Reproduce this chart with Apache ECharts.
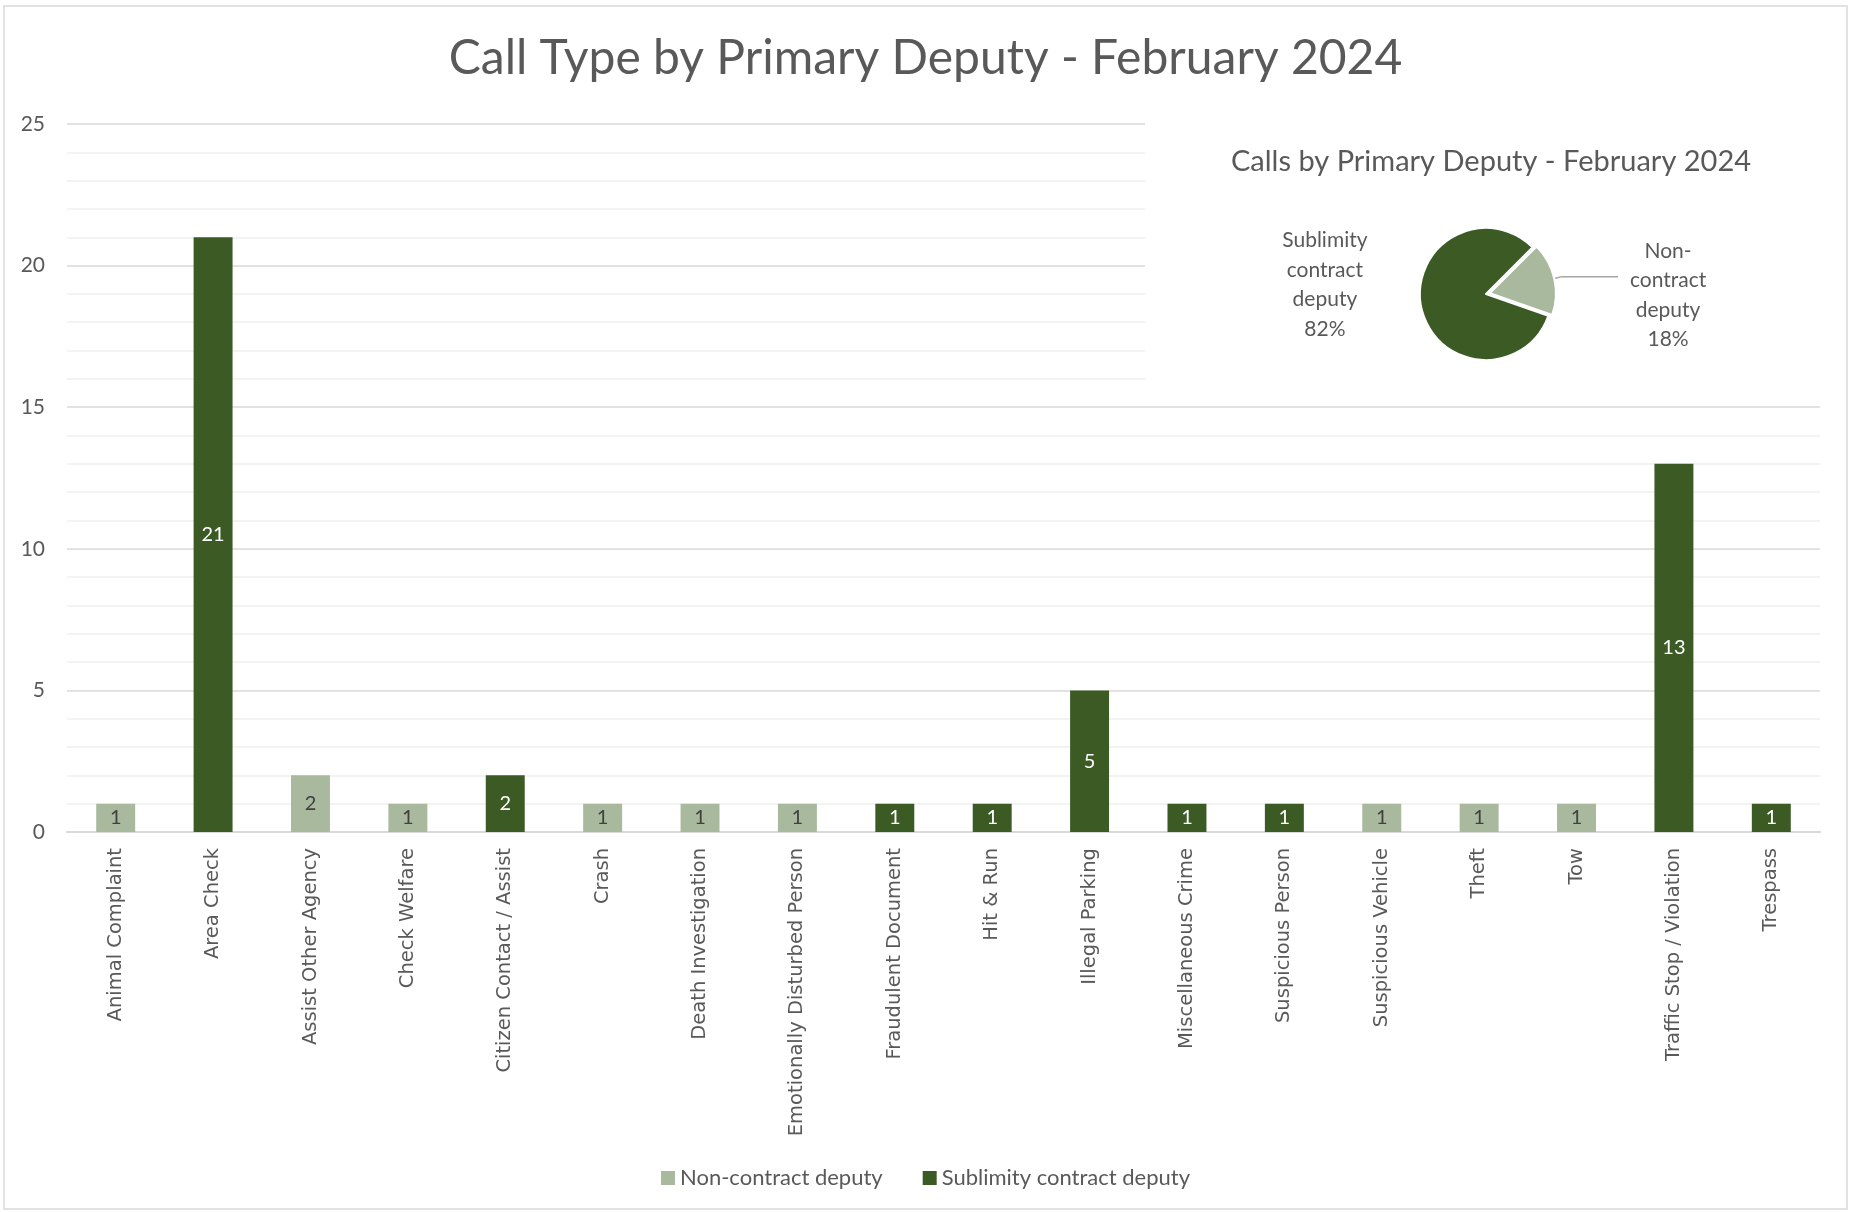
<!DOCTYPE html>
<html>
<head>
<meta charset="utf-8">
<title>Call Type by Primary Deputy - February 2024</title>
<script src="https://cdn.jsdelivr.net/npm/echarts@6/dist/echarts.min.js"></script>
<style>
  html, body { margin: 0; padding: 0; background: #fff; }
  #chart { width: 1851px; height: 1212px; }
</style>
</head>
<body>
<div id="chart"></div>
<script>
// call types (x axis)
var callTypes = [
  'Animal Complaint', 'Area Check', 'Assist Other Agency', 'Check Welfare',
  'Citizen Contact / Assist', 'Crash', 'Death Investigation',
  'Emotionally Disturbed Person', 'Fraudulent Document', 'Hit & Run',
  'Illegal Parking', 'Miscellaneous Crime', 'Suspicious Person',
  'Suspicious Vehicle', 'Theft', 'Tow', 'Traffic Stop / Violation', 'Trespass'
]
var nonContract = [1, 0, 2, 1, 0, 1, 1, 1, 0, 0, 0, 0, 0, 1, 1, 1, 0, 0]
var sublimity   = [0, 21, 0, 0, 2, 0, 0, 0, 1, 1, 5, 1, 1, 0, 0, 0, 13, 1]
var seriesNames = ['Non-contract deputy', 'Sublimity contract deputy']
var pieLabels = ['Non-\ncontract\ndeputy', 'Sublimity\ncontract\ndeputy']

var LIGHT = '#a9b99e'
var DARK = '#3b5a24'
var TEXT = '#595959'
var CAL = 'Lato, "Open Sans", sans-serif'

function sum(arr) {
  return arr.reduce(function (a, b) { return a + b }, 0)
}

// rich style for the centred, multi-line pie labels
function pieRich(w) {
  return {
    t: {
      width: w,
      align: 'center',
      fontFamily: CAL,
      fontSize: 21,
      lineHeight: 29.5,
      color: TEXT
    }
  }
}

var chart = echarts.init(document.getElementById('chart'))

chart.setOption({
  backgroundColor: '#fff',
  animation: false,
  title: [{
    text: 'Call Type by Primary Deputy - February 2024',
    left: 'center',
    top: 30,
    textStyle: { fontFamily: CAL, fontSize: 48, fontWeight: 'normal', color: TEXT }
  }, {
    text: 'Calls by Primary Deputy - February 2024',
    left: 1486,
    top: 142,
    textAlign: 'center',
    textStyle: { fontFamily: CAL, fontSize: 29, fontWeight: 'normal', color: TEXT }
  }],
  graphic: [{
    // chart outline
    type: 'rect',
    z: 0,
    silent: true,
    shape: { x: 4, y: 6, width: 1843, height: 1203 },
    style: { fill: 'none', stroke: '#d9d9d9', lineWidth: 1.5 }
  }, {
    // white panel behind the pie
    type: 'rect',
    z: 1,
    silent: true,
    shape: { x: 1145, y: 110, width: 690, height: 287 },
    style: { fill: '#fff' }
  }],
  legend: {
    data: seriesNames,
    bottom: 18,
    left: 'center',
    icon: 'rect',
    itemWidth: 14,
    itemHeight: 14,
    itemGap: 40,
    textStyle: { fontFamily: CAL, fontSize: 22, color: TEXT }
  },
  grid: {
    left: 67,
    right: 31,
    top: 124,
    bottom: 380
  },
  xAxis: {
    type: 'category',
    data: callTypes,
    axisTick: { show: false },
    axisLine: { lineStyle: { color: '#d9d9d9', width: 2 } },
    axisLabel: {
      rotate: 90,
      interval: 0,
      margin: 16,
      fontFamily: 'DejaVu Sans',
      fontSize: 19.5,
      color: TEXT
    }
  },
  yAxis: {
    type: 'value',
    min: 0,
    max: 25,
    interval: 5,
    axisLine: { show: false },
    axisTick: { show: false },
    axisLabel: { fontFamily: CAL, fontSize: 21, color: TEXT, margin: 22 },
    splitLine: { lineStyle: { color: '#d9d9d9', width: 1.5 } },
    minorTick: { show: false, splitNumber: 5 },
    minorSplitLine: { show: true, lineStyle: { color: '#f0f0f0', width: 1.5 } }
  },
  series: [{
    name: seriesNames[0],
    type: 'bar',
    stack: 'calls',
    barWidth: '40%',
    data: nonContract,
    itemStyle: { color: LIGHT },
    label: {
      show: true,
      position: 'inside',
      fontFamily: CAL,
      fontSize: 20,
      color: '#404040',
      formatter: function (p) { return p.value ? p.value : '' }
    }
  }, {
    name: seriesNames[1],
    type: 'bar',
    stack: 'calls',
    barWidth: '40%',
    data: sublimity,
    itemStyle: { color: DARK },
    label: {
      show: true,
      position: 'inside',
      fontFamily: CAL,
      fontSize: 20,
      color: '#fff',
      formatter: function (p) { return p.value ? p.value : '' }
    }
  }, {
    name: 'Calls by Primary Deputy',
    type: 'pie',
    z: 5,
    center: [1486, 294],
    radius: [0, 66],
    startAngle: 45,
    clockwise: true,
    selectedMode: 'single',
    selectedOffset: 4,
    legendHoverLink: false,
    itemStyle: { borderColor: '#fff', borderWidth: 2 },
    data: [{
      name: seriesNames[0],
      value: sum(nonContract),
      selected: true,
      itemStyle: { color: LIGHT },
      label: {
        formatter: function (p) { return '{t|' + pieLabels[0] + '\n' + Math.round(p.percent) + '%}' },
        rich: pieRich(90),
        padding: [37, 0, 0, 0]
      },
      labelLine: { show: true, length: 8, length2: 56, lineStyle: { color: '#a6a6a6', width: 1.5 } }
    }, {
      name: seriesNames[1],
      value: sum(sublimity),
      itemStyle: { color: DARK },
      label: {
        formatter: function (p) { return '{t|' + pieLabels[1] + '\n' + Math.round(p.percent) + '%}' },
        rich: pieRich(94),
        padding: [0, 0, 52, 0]
      },
      labelLine: { show: false, length: 10, length2: 35 }
    }]
  }]
})
</script>
</body>
</html>
